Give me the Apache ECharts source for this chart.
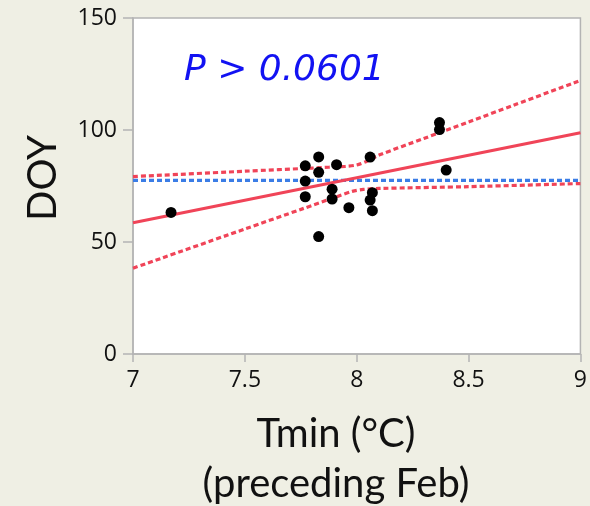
<!DOCTYPE html>
<html><head><meta charset="utf-8">
<script src="https://cdn.jsdelivr.net/npm/echarts@6/dist/echarts.min.js"></script>
<style>html,body{margin:0;padding:0;background:#efefe4;}#c{width:590px;height:506px;}</style>
</head><body><div id="c"></div>
<script>
// Observed points: Tmin (°C, preceding Feb) vs DOY
const tmin = [7.17, 7.77, 7.77, 7.77, 7.83, 7.83, 7.83, 7.91, 7.89, 7.89, 7.965, 8.06, 8.07, 8.06, 8.07, 8.37, 8.37, 8.40];
const doy  = [63.2, 84.0, 77.2, 70.2, 88.0, 81.1, 52.4, 84.5, 73.6, 69.2, 65.3, 87.9, 72.0, 68.7, 64.0, 103.3, 100.2, 82.1];
// Fit line
const fitX = [7, 9];
const fitY = [58.6, 98.8];
// Mean line
const meanX = [7, 9];
const meanY = [77.5, 77.5];
// Upper confidence curve
const upX = [7, 7.5, 7.8, 7.95, 8.0, 8.05, 8.1, 8.3, 8.5, 8.7, 9];
const upY = [79.2, 81.6, 83.0, 83.8, 84.4, 86.3, 88.8, 96.2, 103.6, 111.0, 122.1];
// Lower confidence curve
const loX = [7, 7.5, 7.76, 7.91, 7.98, 8.03, 8.1, 8.5, 9];
const loY = [38.3, 55.8, 64.9, 70.2, 72.6, 73.5, 73.9, 74.7, 76.1];
const xTicks = [7, 7.5, 8, 8.5, 9];
const yTicks = [0, 50, 100, 150];

const zip = (a, b) => a.map((v, i) => [v, b[i]]);
const red = '#f04458';
const chart = echarts.init(document.getElementById('c'));
chart.setOption({
  backgroundColor: '#efefe4',
  animation: false,
  grid: {left: 133, right: 8, top: 18, bottom: 152, show: true, backgroundColor: '#ffffff', borderColor: '#b4b4b4', borderWidth: 1.5},
  xAxis: {
    type: 'value', min: xTicks[0], max: xTicks[xTicks.length - 1], interval: 0.5,
    splitLine: {show: false},
    axisLine: {onZero: false, lineStyle: {color: '#b4b4b4', width: 1.5}},
    axisTick: {length: 8, lineStyle: {color: '#b4b4b4', width: 1.5}},
    axisLabel: {color: '#111', fontSize: 23, fontFamily: 'Open Sans', margin: 15, formatter: v => String(v)}
  },
  yAxis: {
    type: 'value', min: yTicks[0], max: yTicks[yTicks.length - 1], interval: 50,
    splitLine: {show: false},
    axisLine: {show: true, lineStyle: {color: '#b4b4b4', width: 1.5}},
    axisTick: {show: true, length: 10, lineStyle: {color: '#b4b4b4', width: 1.5}},
    axisLabel: {color: '#111', fontSize: 23, fontFamily: 'Open Sans', margin: 16}
  },
  graphic: [
    {type: 'text', left: 184, top: 53, style: {text: 'P > 0.0601', fontSize: 36, fontStyle: 'italic', fontFamily: 'DejaVu Sans', fill: '#1212f2'}},
    {type: 'text', x: 43, y: 178, rotation: Math.PI / 2, style: {text: 'DOY', fontSize: 40, fontFamily: 'Lato', fill: '#111', align: 'center', verticalAlign: 'middle'}},
    {type: 'text', x: 336, y: 434, style: {text: 'Tmin (°C)', fontSize: 40, fontFamily: 'Lato', fill: '#111', align: 'center', verticalAlign: 'middle'}},
    {type: 'text', x: 336, y: 484, style: {text: '(preceding Feb)', fontSize: 40, fontFamily: 'Lato', fill: '#111', align: 'center', verticalAlign: 'middle'}}
  ],
  series: [
    {type: 'line', data: zip(meanX, meanY), symbol: 'none', lineStyle: {color: '#3b7de6', width: 3.2, type: [5, 3]}, z: 2},
    {type: 'line', data: zip(upX, upY), symbol: 'none', smooth: 0.3, lineStyle: {color: red, width: 3.2, type: [5, 3]}, z: 3},
    {type: 'line', data: zip(loX, loY), symbol: 'none', smooth: 0.3, lineStyle: {color: red, width: 3.2, type: [5, 3]}, z: 3},
    {type: 'line', data: zip(fitX, fitY), symbol: 'none', lineStyle: {color: red, width: 3}, z: 4},
    {type: 'scatter', data: zip(tmin, doy), symbolSize: 11, itemStyle: {color: '#000', opacity: 1}, z: 5}
  ]
});
</script></body></html>
